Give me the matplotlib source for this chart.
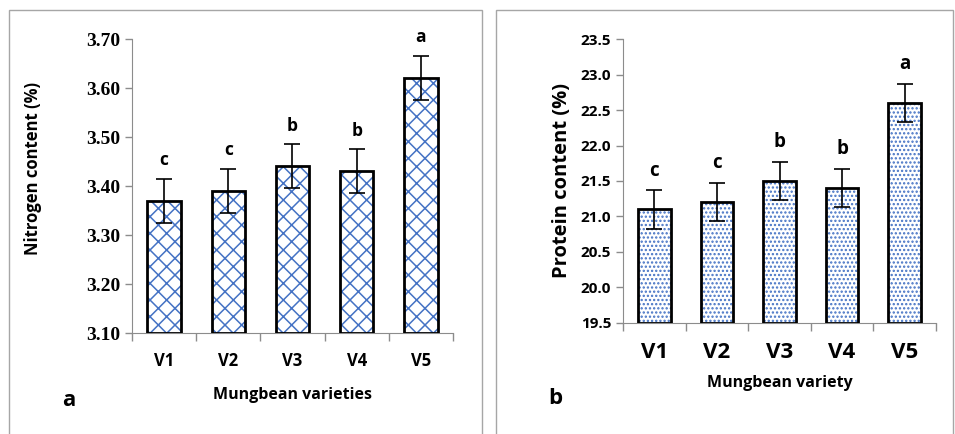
import numpy as np
import matplotlib
matplotlib.use("Agg")
import matplotlib.pyplot as plt
from matplotlib.patches import Rectangle

varieties = ["V1", "V2", "V3", "V4", "V5"]

nitrogen = [3.37, 3.39, 3.44, 3.43, 3.62]
nitrogen_err = [0.045, 0.045, 0.045, 0.045, 0.045]
nitrogen_ticks = [3.10, 3.20, 3.30, 3.40, 3.50, 3.60, 3.70]

protein = [21.1, 21.2, 21.5, 21.4, 22.6]
protein_err = [0.27, 0.27, 0.27, 0.27, 0.27]
protein_ticks = [19.5, 20.0, 20.5, 21.0, 21.5, 22.0, 22.5, 23.0, 23.5]

letters = ["c", "c", "b", "b", "a"]

SANS = "Open Sans"
SERIF = "Liberation Serif"
BLUE = "#4472c4"
GREY = "#8c8c8c"

plt.rcParams["hatch.linewidth"] = 1.1


def draw_panel(ax, vals, errs, ticks, hatch, xfs, letfs):
    x = np.arange(len(vals))
    base = ticks[0]
    h = [v - base for v in vals]
    # hatch layer in blue, then black outline on top
    ax.bar(x, h, width=0.52, bottom=base, color="white", edgecolor=BLUE,
           hatch=hatch, linewidth=0, zorder=2)
    ax.bar(x, h, width=0.52, bottom=base, color="none", edgecolor="black",
           linewidth=2, zorder=3)
    ax.errorbar(x, vals, yerr=errs, fmt="none", ecolor="black",
                elinewidth=1.2, capsize=6, capthick=1.2, zorder=4)
    for xi, v, e, l in zip(x, vals, errs, letters):
        ax.annotate(l, (xi, v + e), xytext=(0, 7), textcoords="offset points",
                    ha="center", va="bottom", fontsize=letfs,
                    fontweight="bold", family=SANS)

    ax.set_xlim(-0.5, len(vals) - 0.5)
    ax.set_ylim(ticks[0], ticks[-1])
    ax.set_yticks(ticks)
    ax.set_xticks(x)
    ax.set_xticklabels(varieties, fontsize=xfs, fontweight="bold", family=SANS)
    ax.set_xticks(np.arange(len(vals) + 1) - 0.5, minor=True)
    ax.tick_params(axis="x", which="major", length=0, pad=14)
    ax.tick_params(axis="x", which="minor", length=6, color=GREY, width=1)
    ax.tick_params(axis="y", length=5, color=GREY, width=1)
    ax.spines["top"].set_visible(False)
    ax.spines["right"].set_visible(False)
    ax.spines["left"].set_color(GREY)
    ax.spines["bottom"].set_color(GREY)


fig = plt.figure(figsize=(9.55, 4.34), dpi=100)

# panel frames
fig.patches.append(Rectangle((9 / 955, -0.1), (482 - 9) / 955, 1.1 - 10 / 434,
                             transform=fig.transFigure, fill=False,
                             edgecolor="#a6a6a6", linewidth=1))
fig.patches.append(Rectangle((496 / 955, -0.1), (953 - 496) / 955, 1.1 - 10 / 434,
                             transform=fig.transFigure, fill=False,
                             edgecolor="#a6a6a6", linewidth=1))

ax1 = fig.add_axes([0.1382, 0.2327, 0.3361, 0.6774])
draw_panel(ax1, nitrogen, nitrogen_err, nitrogen_ticks, "xx", 12, 12.5)
ax1.set_yticklabels(["%.2f" % t for t in nitrogen_ticks])
for t in ax1.get_yticklabels():
    t.set_fontsize(14)
    t.set_fontweight("bold")
    t.set_family(SERIF)
ax1.set_ylabel("Nitrogen content (%)", fontsize=12, fontweight="bold",
               family=SANS, labelpad=8)
ax1.yaxis.set_label_coords(-0.28, 0.56)
ax1.set_xlabel("Mungbean varieties", fontsize=11.5, fontweight="bold",
               family=SANS, labelpad=12)

ax2 = fig.add_axes([0.6524, 0.2558, 0.3277, 0.6543])
draw_panel(ax2, protein, protein_err, protein_ticks, "....", 16, 13.5)
ax2.set_yticklabels(["%.1f" % t for t in protein_ticks])
for t in ax2.get_yticklabels():
    t.set_fontsize(11)
    t.set_fontweight("bold")
    t.set_family(SANS)
ax2.set_ylabel("Protein content (%)", fontsize=14.5, fontweight="bold",
               family=SANS, labelpad=6)
ax2.set_xlabel("Mungbean variety", fontsize=11.5, fontweight="bold",
               family=SANS, labelpad=8)

fig.text(62 / 955, 1 - 400 / 434, "a", fontsize=16, fontweight="bold",
         family=SANS, ha="left", va="center")
fig.text(548 / 955, 1 - 398 / 434, "b", fontsize=16, fontweight="bold",
         family=SANS, ha="left", va="center")

fig.savefig("out.png", dpi=100)
